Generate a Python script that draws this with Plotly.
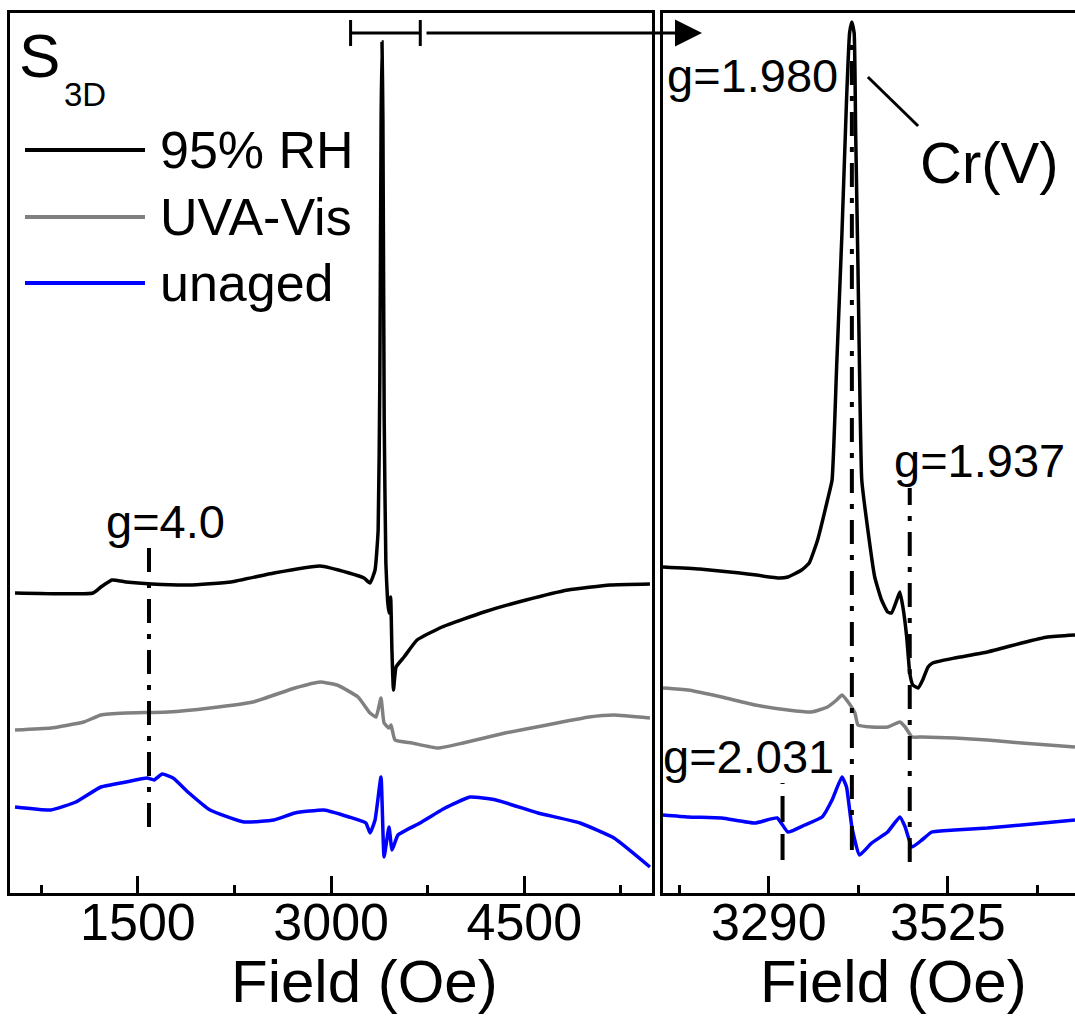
import plotly.graph_objects as go

# ---------------- data (field in Oe, intensity in arbitrary units) ----------------
# Full-sweep panel
full_field_rh = [546, 1151, 1213, 1299, 1408, 1609, 1897, 2223, 2556, 2914, 3139, 3255, 3302, 3341,
                 3365, 3378, 3388, 3395, 3402, 3412, 3425, 3438, 3449, 3462, 3472, 3484, 3504, 3566,
                 3667, 3861, 4187, 4513, 4839, 5165, 5475]
full_int_rh = [300, 300, 306, 313, 311, 309, 308, 311, 320, 327, 320, 315, 310, 323,
               363, 513, 773, 851, 773, 473, 330, 293, 280, 296, 243, 203, 226, 236,
               253, 266, 281, 293, 303, 308, 309]

full_field_uv = [546, 824, 1080, 1213, 1408, 1734, 2060, 2393, 2719, 2914, 3046, 3209, 3302, 3349,
                 3387, 3411, 3449, 3465, 3496, 3628, 3830, 4024, 4350, 4676, 5002, 5196, 5475]
full_int_uv = [163, 165, 171, 178, 180, 181, 185, 191, 205, 211, 208, 196, 180, 176,
               195, 170, 165, 168, 153, 150, 145, 150, 160, 168, 176, 178, 175]

full_field_un = [546, 824, 1018, 1213, 1408, 1571, 1626, 1688, 1773, 1897, 2060, 2324, 2556, 2719,
                 2944, 3139, 3270, 3302, 3341, 3387, 3411, 3449, 3473, 3519, 3690, 3884, 4078,
                 4280, 4606, 4932, 5196, 5475]
full_int_un = [86, 83, 91, 106, 111, 115, 113, 119, 115, 100, 83, 71, 73, 80,
               83, 76, 70, 60, 73, 116, 36, 66, 43, 58, 70, 85, 96,
               93, 80, 70, 55, 26]

# Zoomed panel
zoom_field_rh = [3151, 3199, 3252, 3304, 3315, 3333, 3343, 3354, 3367, 3373, 3379, 3386, 3392, 3396,
                 3399, 3402, 3404, 3407, 3409, 3412, 3420, 3429, 3438, 3446, 3451, 3458, 3462, 3466,
                 3471, 3475, 3479, 3486, 3492, 3499, 3505, 3534, 3577, 3622, 3656, 3692]
zoom_int_rh = [326, 324, 320, 315, 316, 323, 330, 353, 393, 413, 526, 660, 793, 860,
               871, 860, 760, 626, 526, 413, 363, 316, 293, 281, 280, 293, 301, 286,
               256, 220, 208, 205, 213, 226, 230, 235, 241, 250, 256, 258]

zoom_field_uv = [3151, 3184, 3228, 3272, 3315, 3346, 3367, 3379, 3386, 3394, 3403, 3407, 3425, 3446,
                 3462, 3469, 3478, 3491, 3534, 3577, 3622, 3692]
zoom_int_uv = [205, 203, 196, 188, 183, 181, 186, 193, 198, 191, 180, 168, 166, 166,
               171, 166, 156, 156, 155, 153, 150, 146]

zoom_field_un = [3151, 3184, 3228, 3272, 3301, 3315, 3337, 3360, 3373, 3386, 3392, 3399, 3409, 3425,
                 3446, 3462, 3469, 3478, 3491, 3504, 3534, 3577, 3622, 3692]
zoom_int_un = [78, 76, 75, 70, 75, 61, 68, 76, 93, 116, 106, 66, 38, 50,
               61, 76, 66, 46, 53, 61, 63, 65, 68, 73]

series_names = ["95% RH", "UVA-Vis", "unaged"]
series_colors = ["#000000", "#808080", "#0000ff"]

full_range = [507, 5491]
zoom_range = [3151, 3692]
full_ticks = [1500, 3000, 4500]
zoom_ticks = [3290, 3525]
y_range = [0, 880]

# marker lines: (label, field, y0, y1, panel, style)
g_lines = [
    ("g=4.0", 1586, 66, 345, 1, "dashdot"),
    ("g=1.980", 3399, 43, 853, 2, "dashdot"),
    ("g=1.937", 3475, 31, 405, 2, "dashdot"),
    ("g=2.031", 3308, 33, 110, 2, "dash"),
]

# ---------------- figure ----------------
W, H = 1075, 1016
FONT = "Liberation Sans, Arial, sans-serif"


def px(x):
    return x / W


def py(y):
    return 1 - y / H


fig = go.Figure()
full_sets = [(full_field_rh, full_int_rh), (full_field_uv, full_int_uv), (full_field_un, full_int_un)]
zoom_sets = [(zoom_field_rh, zoom_int_rh), (zoom_field_uv, zoom_int_uv), (zoom_field_un, zoom_int_un)]
for (xs, ys), name, col in zip(full_sets, series_names, series_colors):
    fig.add_trace(go.Scatter(x=xs, y=ys, mode="lines", name=name, showlegend=False,
                             line=dict(color=col, width=3.5, shape="spline", smoothing=0.4),
                             xaxis="x", yaxis="y"))
for (xs, ys), name, col in zip(zoom_sets, series_names, series_colors):
    fig.add_trace(go.Scatter(x=xs, y=ys, mode="lines", name=name, showlegend=False,
                             line=dict(color=col, width=3.5, shape="spline", smoothing=0.4),
                             xaxis="x2", yaxis="y2"))

ydom = [py(893), py(13)]
axis_common = dict(showgrid=False, zeroline=False, linecolor="black", linewidth=3,
                   ticks="inside", ticklen=17, tickwidth=3, tickcolor="black",
                   ticklabelstandoff=-18,
                   tickfont=dict(family=FONT, size=52, color="black"))

fig.update_layout(
    width=W, height=H, margin=dict(l=0, r=0, t=0, b=0),
    paper_bgcolor="white", plot_bgcolor="white", showlegend=False,
    xaxis=dict(domain=[px(10), px(652)], range=full_range, tickvals=full_ticks,
               ticktext=[str(t) for t in full_ticks], showline=True, mirror=True,
               minor=dict(ticks="inside", ticklen=8, tickwidth=3, tickcolor="black",
                          dtick=750, tick0=0),
               anchor="y", **axis_common),
    yaxis=dict(domain=ydom, range=y_range, showline=True, mirror=True, showticklabels=False,
               ticks="", showgrid=False, zeroline=False, linecolor="black", linewidth=3,
               anchor="x"),
    xaxis2=dict(domain=[px(663), 1.0], range=zoom_range, tickvals=zoom_ticks,
                ticktext=[str(t) for t in zoom_ticks], showline=True, mirror=True,
                minor=dict(ticks="inside", ticklen=8, tickwidth=3, tickcolor="black",
                           dtick=117.5, tick0=3290),
                anchor="y2", **axis_common),
    yaxis2=dict(domain=ydom, range=y_range, showline=True, mirror=False, showticklabels=False,
                ticks="", showgrid=False, zeroline=False, linecolor="black", linewidth=3,
                anchor="x2"),
)

shapes = []
annots = []
for label, gx, y0, y1, panel, style in g_lines:
    xr = "x" if panel == 1 else "x2"
    yr = "y" if panel == 1 else "y2"
    shapes.append(dict(type="line", xref=xr, yref=yr, x0=gx, x1=gx, y0=y0, y1=y1,
                       line=dict(color="black", width=4,
                                 dash="24px,11px,5px,11px" if style == "dashdot" else "26px,12px")))

# range bar on the full panel (shows zoomed range)
bar_y = 860
shapes.append(dict(type="line", xref="x", yref="y", x0=zoom_range[0], x1=zoom_range[1],
                   y0=bar_y, y1=bar_y, line=dict(color="black", width=3)))
for xe in zoom_range:
    shapes.append(dict(type="line", xref="x", yref="y", x0=xe, x1=xe, y0=bar_y - 13, y1=bar_y + 13,
                       line=dict(color="black", width=3)))
# arrow to the zoomed panel
annots.append(dict(xref="paper", yref="paper", x=px(702), y=py(33), ax=-277, ay=0,
                   axref="pixel", ayref="pixel", text="", showarrow=True,
                   arrowhead=2, arrowsize=1.8, arrowwidth=3, arrowcolor="black"))

# Cr(V) leader line
shapes.append(dict(type="line", xref="x2", yref="y2", x0=3420, x1=3486, y0=816, y1=767,
                   line=dict(color="black", width=3)))

# legend (manual)
leg_y = [150, 217, 283]
for name, col, ly in zip(series_names, series_colors, leg_y):
    shapes.append(dict(type="line", xref="paper", yref="paper", x0=px(25), x1=px(145),
                       y0=py(ly), y1=py(ly), line=dict(color=col, width=4)))
    annots.append(dict(xref="paper", yref="paper", x=px(158), y=py(ly), text=name,
                       showarrow=False, xanchor="left", yanchor="middle",
                       font=dict(family=FONT, size=52, color="black")))

# sample label
annots.append(dict(xref="paper", yref="paper", x=px(17), y=py(55), text="S", showarrow=False,
                   xanchor="left", yanchor="middle", font=dict(family=FONT, size=62, color="black")))
annots.append(dict(xref="paper", yref="paper", x=px(62), y=py(94), text="3D", showarrow=False,
                   xanchor="left", yanchor="middle", font=dict(family=FONT, size=33, color="black")))

# g labels
gfont = dict(family=FONT, size=47, color="black")
annots.append(dict(xref="paper", yref="paper", x=px(166), y=py(521), text="g=4.0", showarrow=False,
                   xanchor="center", yanchor="middle", font=gfont))
annots.append(dict(xref="paper", yref="paper", x=px(752), y=py(76), text="g=1.980", showarrow=False,
                   xanchor="center", yanchor="middle", font=gfont))
annots.append(dict(xref="paper", yref="paper", x=px(979), y=py(460), text="g=1.937", showarrow=False,
                   xanchor="center", yanchor="middle", font=gfont))
annots.append(dict(xref="paper", yref="paper", x=px(748), y=py(756), text="g=2.031", showarrow=False,
                   xanchor="center", yanchor="middle", font=gfont))
annots.append(dict(xref="paper", yref="paper", x=px(989), y=py(163), text="Cr(V)", showarrow=False,
                   xanchor="center", yanchor="middle", font=dict(family=FONT, size=58, color="black")))

# axis titles
tfont = dict(family=FONT, size=60, color="black")
annots.append(dict(xref="paper", yref="paper", x=px(364), y=py(981), text="Field (Oe)", showarrow=False,
                   xanchor="center", yanchor="middle", font=tfont))
annots.append(dict(xref="paper", yref="paper", x=px(893), y=py(981), text="Field (Oe)", showarrow=False,
                   xanchor="center", yanchor="middle", font=tfont))

fig.update_layout(shapes=shapes, annotations=annots)
fig.write_html("out.html", config={"displayModeBar": False},
               post_script="document.body.style.margin='0';")
